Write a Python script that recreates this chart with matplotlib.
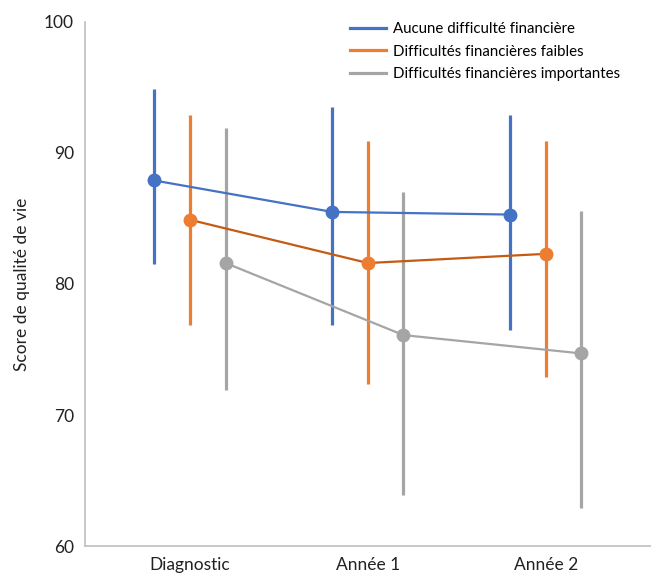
import numpy as np
import matplotlib
matplotlib.use('Agg')
from matplotlib import pyplot as plt

plt.rcParams['font.family'] = ['Lato', 'DejaVu Sans']

categories = ['Diagnostic', 'Année 1', 'Année 2']
series = ['Aucune difficulté financière', 'Difficultés financières faibles',
          'Difficultés financières importantes']

means = [[87.9, 85.5, 85.3],
         [84.9, 81.6, 82.3],
         [81.6, 76.1, 74.7]]
lows = [[81.5, 76.9, 76.5],
        [76.9, 72.4, 72.9],
        [71.9, 63.9, 62.9]]
highs = [[94.9, 93.5, 92.9],
         [92.9, 90.9, 90.9],
         [91.9, 87.0, 85.6]]

point_colors = ['#4472C4', '#ED7D31', '#A5A5A5']
line_colors = ['#4472C4', '#C55A11', '#A5A5A5']
offsets = [-0.2, 0.0, 0.2]

fig = plt.figure(figsize=(6.51, 5.81), dpi=100)
ax = fig.add_axes([0.1306, 0.0602, 0.869, 0.902])

x = np.arange(len(categories))
for i in range(3):
    xs = x + offsets[i]
    ax.vlines(xs, lows[i], highs[i], color=point_colors[i], lw=2.3, zorder=2)
    ax.plot(xs, means[i], color=line_colors[i], lw=1.6, zorder=3)
    ax.plot(xs, means[i], 'o', color=point_colors[i], ms=9, zorder=4)
    # legend handle
    ax.plot([], [], color=point_colors[i], lw=2.3, label=series[i])

ax.set_xlim(-0.59, 2.59)
ax.set_ylim(60, 100)
ax.set_yticks([60, 70, 80, 90, 100])
ax.set_xticks(x)
ax.set_xticklabels(categories)
ax.tick_params(length=0, labelsize=12.5, colors='#222222', pad=8)
ax.set_ylabel('Score de qualité de vie', fontsize=12.5, color='#222222', labelpad=10)
for s in ['top', 'right']:
    ax.spines[s].set_visible(False)
for s in ['left', 'bottom']:
    ax.spines[s].set_color('#BFBFBF')
    ax.spines[s].set_linewidth(1.2)

ax.legend(loc='upper right', bbox_to_anchor=(0.97, 1.025), frameon=False,
          fontsize=10.8, handlelength=2.4, handletextpad=0.5, labelspacing=0.55)

fig.savefig('out.png', dpi=100)
